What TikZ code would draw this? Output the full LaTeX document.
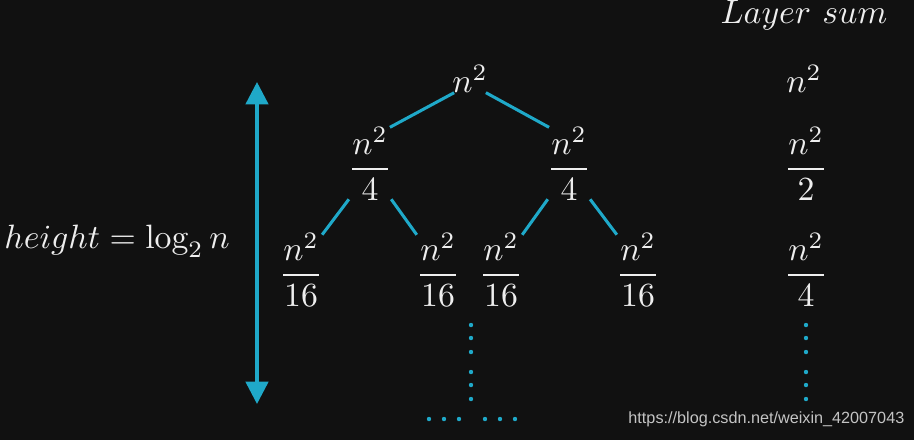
\documentclass[tikz,border=0pt]{standalone}
\usepackage{amsmath}
\usepackage{fontspec}
\usetikzlibrary{arrows.meta,positioning}
\definecolor{bgdark}{HTML}{111111}
\definecolor{treecyan}{HTML}{1FA9C9}
\definecolor{ink}{HTML}{EEEEEE}
\definecolor{markgray}{HTML}{C4C4C4}
\newfontfamily\markfont{Liberation Sans}
\tikzset{
  rec/.style={
    x=0.296pt, y=-0.296pt,
    text=ink,
  },
  term/.style={
    inner sep=0.4pt,
    text=ink,
  },
  branch/.style={
    draw=treecyan,
    line width=0.9pt,
    shorten <=-1.3pt,
    shorten >=-1.3pt,
  },
  span/.style={
    {Triangle[length=6.6pt, width=6.6pt]}-{Triangle[length=6.6pt, width=6.6pt]},
    draw=treecyan,
    line width=1pt,
  },
  dotmark/.style={
    fill=treecyan,
  },
}

\begin{document}
\begin{tikzpicture}[rec]
  \path[use as bounding box, fill=bgdark] (0,0) rectangle (914,440);

  % recursion tree
  \node[term] (root) at (470,79)  {$n^2$};
  \node[term] (l)    at (370,164) {$\dfrac{n^2}{4}$};
  \node[term] (r)    at (569,164) {$\dfrac{n^2}{4}$};
  \node[term] (ll)   at (301,270) {$\dfrac{n^2}{16}$};
  \node[term] (lr)   at (438,270) {$\dfrac{n^2}{16}$};
  \node[term] (rl)   at (501,270) {$\dfrac{n^2}{16}$};
  \node[term] (rr)   at (638,270) {$\dfrac{n^2}{16}$};

  \draw[branch] (root.south west) -- (l.north east);
  \draw[branch] (root.south east) -- (r.north west);
  \draw[branch] (l.south west) -- (ll.north east);
  \draw[branch] (l.south east) -- (lr.north west);
  \draw[branch] (r.south west) -- (rl.north east);
  \draw[branch] (r.south east) -- (rr.north west);

  % layer sums
  \node[term] (head) at (804,15)  {$Layer\ sum$};
  \node[term] (sum0) at (804,79)  {$n^2$};
  \node[term] (sum1) at (806,164) {$\dfrac{n^2}{2}$};
  \node[term] (sum2) at (806,270) {$\dfrac{n^2}{4}$};

  % height
  \node[term] (height) at (117,241) {$height = \log_2 n$};
  \coordinate (top) at (257,82);
  \coordinate (bot) at (257,404);
  \draw[span] (top) -- (bot);

  % dots
  \foreach \y in {325,338,352,372,385,399} {
    \fill[dotmark] (471,\y) circle[radius=0.65pt];
    \fill[dotmark] (806,\y) circle[radius=0.65pt];
  }
  \foreach \x in {429,444,459,485,500,515}
    \fill[dotmark] (\x,419) circle[radius=0.65pt];

  \node[anchor=east, inner sep=0pt, text=markgray,
    font=\markfont\fontsize{4.8}{6}\selectfont] (mark) at (905,419)
    {https://blog.csdn.net/weixin\_42007043};
\end{tikzpicture}
\end{document}
